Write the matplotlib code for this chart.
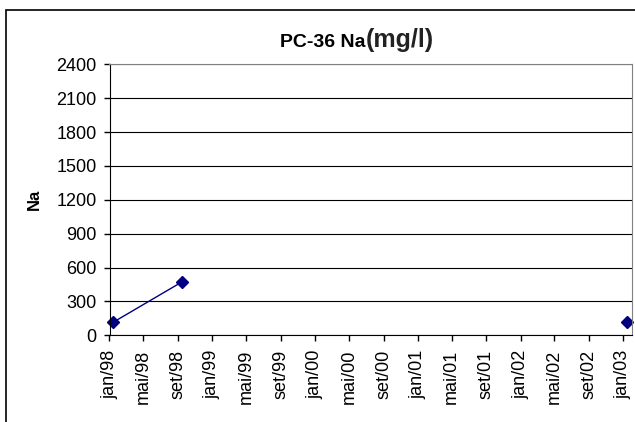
import matplotlib
matplotlib.use("Agg")
import matplotlib.pyplot as plt
import matplotlib.dates as mdates
from datetime import datetime
from matplotlib.patches import Rectangle

plt.rcParams['font.family'] = ['Liberation Sans', 'DejaVu Sans']

# sample dates and values; the series breaks between set/98 and jan/03
dates = [datetime(1998, 1, 15), datetime(1998, 9, 17), datetime(2003, 1, 13)]
na_vals = [117, 475, 115]
segments = [[0, 1], [2]]

month_abbr = ['jan', 'fev', 'mar', 'abr', 'mai', 'jun',
              'jul', 'ago', 'set', 'out', 'nov', 'dez']
y_ticks = list(range(0, 2401, 300))

fig = plt.figure(figsize=(6.35, 4.22), dpi=100)
ax = fig.add_axes([109.5/635, 1 - 335.3/422, 522/635, 271/422])

# outer chart frame (runs off the right and bottom edges)
fig.patches.append(Rectangle((5.5/635, -0.1), 1.1, 1 - 10/422 + 0.1,
                             transform=fig.transFigure, fill=False,
                             edgecolor='black', linewidth=1.2))

color = '#000080'
for seg in segments:
    ax.plot([dates[i] for i in seg], [na_vals[i] for i in seg], color=color,
            linewidth=1, marker='D', markersize=6, markerfacecolor=color,
            markeredgecolor=color, clip_on=False)

ax.set_ylim(0, 2400)
ax.set_yticks(y_ticks)
ax.set_xlim(datetime(1998, 1, 1), datetime(2003, 1, 30))
ax.xaxis.set_major_locator(mdates.MonthLocator(bymonth=[1, 5, 9]))
ax.xaxis.set_major_formatter(plt.FuncFormatter(
    lambda x, p: "%s/%s" % (month_abbr[mdates.num2date(x).month - 1],
                            mdates.num2date(x).strftime('%y'))))
plt.setp(ax.get_xticklabels(), rotation=90)

ax.yaxis.grid(True, color='#000000', linewidth=0.8)
ax.set_axisbelow(True)
ax.tick_params(axis='both', direction='out', length=4.3, width=1,
               labelsize=13, color='black')
ax.tick_params(axis='y', pad=5)
ax.tick_params(axis='x', pad=6)
for s in ['top', 'right']:
    ax.spines[s].set_color('#808080')
for s in ['left', 'bottom']:
    ax.spines[s].set_color('black')

ax.set_ylabel('Na', fontsize=12, fontweight='bold')
ax.yaxis.set_label_coords(-68/522, 0.5)

fig.text(366/635, 1 - 46.7/422, 'PC-36 Na', fontsize=14, fontweight='bold',
         ha='right', va='baseline')
fig.text(366/635, 1 - 46.7/422, '(mg/l)', fontsize=18, fontweight='bold',
         ha='left', va='baseline', color='#222222')

fig.savefig('out.png', dpi=100)
